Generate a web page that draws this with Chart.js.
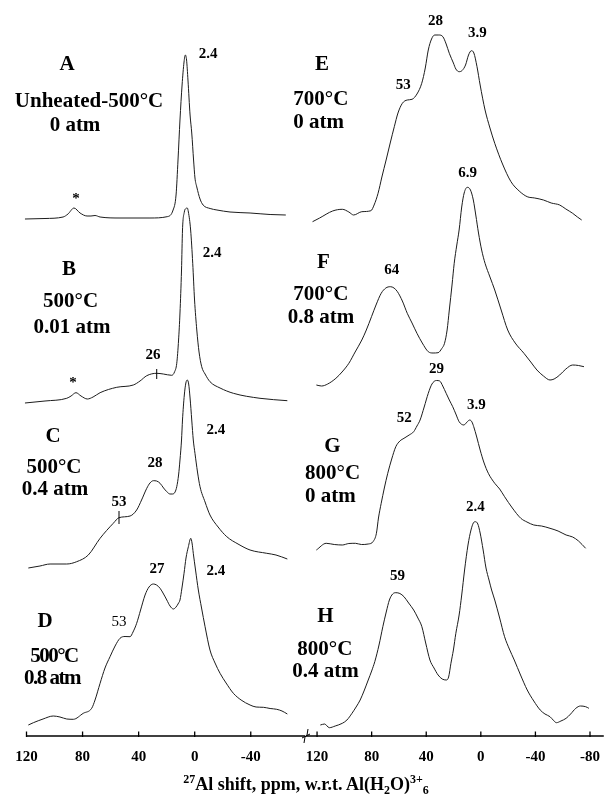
<!DOCTYPE html>
<html><head><meta charset="utf-8">
<script src="https://cdn.jsdelivr.net/npm/chart.js@4.4.0/dist/chart.umd.min.js"></script>
<style>
html,body{margin:0;padding:0;background:#fff;}
#wrap{position:relative;width:612px;height:809px;overflow:hidden;}
canvas{position:absolute;left:0;top:0;}
#xtitle{position:absolute;left:0;width:612px;top:774px;text-align:center;font:bold 18px "Liberation Serif","Times New Roman",serif;color:#000;white-space:nowrap;}
#xtitle sup,#xtitle sub{font-size:12px;vertical-align:baseline;position:relative;}
#xtitle sup{top:-0.6em;}
#xtitle sub{top:0.35em;}
</style></head><body>
<div id="wrap">
<canvas id="cL" width="612" height="809"></canvas>
<canvas id="cR" width="612" height="809"></canvas>
<div id="xtitle"><sup>27</sup>Al shift, ppm, w.r.t. Al(H<sub>2</sub>O)<sup>3+</sup><sub>6</sub></div>
</div>
<script>
// ---- tick labels ----
const leftTicks = [120, 80, 40, 0, -40];
const rightTicks = [120, 80, 40, 0, -40, -80];

// ---- spectra (ppm, relative intensity) ----
const ppmA = [121.1,106.8,93.9,90.4,86.1,81.8,76.8,74.0,71.1,67.5,53.3,31.9,19.7,15.4,13.3,11.9,10.5,9.0,7.6,6.7,5.8,4.8,3.3,2.1,0.8,-0.2,-1.5,-3.8,-6.0,-11.0,-15.9,-25.2,-39.5,-53.8,-65.0];
const intA = [0,0.5,2,5,11,6,3,3,3.5,2,1,1,2.3,9,24,59,99,134,157,164,159,139,104,86,59,41,32,20,14,10.5,9,7,6,4.5,4];

const ppmB = [121.1,106.8,91.3,88.2,84.7,81.1,76.6,72.5,67.5,55.6,43.8,39.0,34.2,27.1,22.4,16.4,14.4,12.8,11.5,10.5,9.4,8.7,7.4,6.3,5.3,4.5,2.9,1.4,0.1,-1.5,-3.1,-5.0,-7.4,-10.9,-18.1,-27.6,-46.6,-66.1];
const intB = [0,2,4.7,7,10.3,7,4,6,10.3,15.7,18,22,27.3,29.7,29,27.7,31,39.7,63,90,133,173,191,194.5,195,191,173,139.7,103,73,51,36.3,29,21.3,15,9.7,4.7,2.3];

const ppmC = [118.7,110.4,103.2,91.3,84.2,75.9,67.5,58.1,54.0,46.1,41.4,37.9,34.2,31.9,29.5,27.2,24.7,22.2,19.9,17.6,15.7,14.0,12.8,11.5,10.5,9.4,8.7,7.4,6.3,5.3,4.3,3.3,2.1,1.0,-0.2,-2.0,-3.8,-7.4,-10.9,-16.7,-22.9,-30.9,-39.5,-51.4,-58.0,-66.1];
const intC = [0,2,4,4,6.3,13,29.7,44.7,50.3,52,58,68,79.7,85,87.3,87,84.7,80,76.3,74,74,76,81.3,93,108,128,148,173,185,188,184,170,148,128,114.7,96,81.3,66,53,41,31.3,24,18,14.7,13,9];

const ppmD = [118.7,115.1,108.2,100.9,96.1,91.3,86.6,79.5,73.5,71.1,67.5,64.0,60.4,56.8,53.3,49.7,46.1,44.0,41.4,38.6,35.4,32.6,29.5,27.2,24.7,22.2,19.9,17.6,15.2,13.3,11.5,10.5,9.1,7.6,6.2,4.5,2.8,1.9,1.0,-0.6,-2.6,-4.9,-7.4,-10.9,-14.5,-18.1,-22.4,-27.6,-33.1,-39.5,-43.8,-49.0,-53.8,-58.5,-62.3,-66.1];
const intD = [0,2.3,6,9,8,6,5.7,11.7,16.7,25,41.7,57,68.3,79,86.7,88.5,88.3,93,101.7,115,130,138,141,140,136.7,131,125,119,116,118,122,125,137,151.7,167,178.3,186.7,182,171.7,155,135,117,98.3,75,62,51.7,42,31.7,25,20,18,17.7,16.5,15.7,14,11];

const ppmE = [123.3,118.1,108.6,101.5,96.7,93.2,87.2,80.5,78.2,75.3,72.5,69.4,66.4,63.4,60.7,57.5,53.9,50.4,46.8,43.3,40.7,38.5,36.1,33.8,30.8,27.8,25.4,23.1,20.1,18.3,15.9,13.7,11.2,9.0,6.9,5.1,2.8,0.5,-3.1,-6.7,-10.2,-15.9,-22.1,-28.1,-34.0,-39.5,-45.9,-51.6,-57.8,-62.3,-67.3,-70.8,-73.9];
const intE = [0.3,4,11,12.7,10,7,10.3,11.3,17,28.7,45,62,79,95.3,109,118.7,122,122.7,128,138.7,154,172,183,187,187,185.3,178,168.7,159,153,150.3,151.5,157,167,171.3,169,155.3,137,112,94,78.7,58,40.3,31,25.3,24,22,19,17,13,8.7,5,2];

const ppmF = [120.5,116.7,112.2,106.2,101.7,96.7,92.1,87.2,83.9,80.1,76.8,73.0,69.6,66.3,63.6,61.1,57.5,53.9,50.4,46.8,42.9,38.5,35.0,31.3,28.6,26.6,24.7,23.1,21.1,19.5,17.6,15.9,14.0,12.2,9.9,7.6,5.5,3.7,1.7,-0.6,-3.1,-6.7,-10.2,-14.9,-19.7,-25.2,-31.6,-36.6,-41.1,-45.9,-50.7,-53.7,-57.8,-62.3,-67.3,-71.6,-75.6];
const intF = [0,-1,1,6.7,13,21.7,33,45,55,68.3,80,91.7,97,98.3,97,93.3,84,71.7,62,51.7,42,33.3,32,32.3,36.5,41.7,55,75,100,121.7,140,155,178,192,197.7,195,185,170,152,135,121.7,108,95,75,55,42,31.7,23,15,9,5,6,10,16,20,19.5,18.3];

const ppmG = [120.5,113.3,107.4,101.5,96.7,91.9,87.5,82.5,78.9,76.5,75.0,73.0,70.7,68.2,65.3,62.3,59.3,56.3,52.5,49.2,46.8,44.5,41.5,38.5,35.8,32.5,30.1,27.9,25.4,23.1,20.6,18.3,15.9,12.4,10.1,8.1,6.5,5.2,3.0,0.5,-2.4,-5.5,-10.2,-13.8,-17.4,-23.1,-29.3,-33.8,-38.8,-44.5,-50.7,-56.6,-62.5,-67.3,-71.6,-76.8];
const intG = [0,6.7,5.5,5,6.5,6.7,5.5,6,8.5,16.7,32,46.7,62,76.7,91,103.3,109,111.7,115,118.3,124,130,143,156.7,166,169.5,169,164,156.7,150,143.3,136,128.3,125,128,130,128,123.3,113,100,87,76.7,66.7,61,53.3,42,31.7,28,25,24,21.7,19,15,13,9,1.7];

const ppmH = [117.6,114.5,111.0,106.7,101.5,98.1,94.4,91.4,88.4,85.3,82.5,80.0,77.7,74.6,71.8,69.3,67.0,64.6,62.3,59.3,56.3,52.9,49.2,46.1,43.2,40.4,37.3,34.3,31.3,28.3,25.4,23.6,21.9,20.1,18.3,15.9,14.0,11.9,9.4,7.2,5.5,4.0,2.2,0.5,-1.7,-3.8,-6.0,-7.9,-10.2,-13.8,-17.4,-20.9,-24.5,-29.1,-34.0,-38.8,-43.5,-47.0,-50.7,-53.0,-55.4,-58.7,-62.5,-65.8,-69.6,-73.0,-76.8,-79.2];
const intH = [0,1,-2.7,-1,1.7,5,11.7,18,25,35,45,54,63.3,80,98.3,113,125,131,132.3,131.5,128.3,122,115,107,98.3,82,65,57,50,46,45,48,61.7,75,91.7,110,130,155,180,195,202,203.3,201,192,175,157,145,135,125,107,88.3,76,65,50,35,24,15,11,8.3,5,2.3,4,6.7,11,16.7,19,18.3,16.7];

// vertical stacking of each trace above the axis
const stackLeft = [517, 333, 168, 11];
const stackRight = [514, 351, 186, 11];

// ---- texts ----
const textsLeft = [
  {t:'A', x:91.1, y:671, s:'big'},
  {t:'Unheated-500°C', x:75.4, y:634, s:'big'},
  {t:'0 atm', x:85.4, y:610, s:'big'},
  {t:'*', x:84.7, y:537, s:'peak'},
  {t:'2.4', x:-9.5, y:682, s:'peak'},
  {t:'B', x:89.6, y:466, s:'big'},
  {t:'500°C', x:88.6, y:434, s:'big'},
  {t:'0.01 atm', x:87.5, y:408, s:'big'},
  {t:'*', x:86.8, y:353, s:'peak'},
  {t:'26', x:29.7, y:381, s:'peak'},
  {t:'2.4', x:-12.4, y:483, s:'peak'},
  {t:'C', x:101.1, y:299, s:'big'},
  {t:'500°C', x:100.4, y:268, s:'big'},
  {t:'0.4 atm', x:99.7, y:246, s:'big'},
  {t:'28', x:28.3, y:273, s:'peak'},
  {t:'53', x:54.0, y:234, s:'peak'},
  {t:'2.4', x:-15.2, y:306, s:'peak'},
  {t:'D', x:106.8, y:114, s:'big'},
  {t:'500°C', x:100.4, y:79, s:'cond'},
  {t:'0.8 atm', x:101.8, y:57, s:'cond'},
  {t:'53', x:54.0, y:114, s:'plain'},
  {t:'27', x:26.9, y:167, s:'peak'},
  {t:'2.4', x:-15.2, y:165, s:'peak'}
];
const textsRight = [
  {t:'E', x:116.3, y:671, s:'big'},
  {t:'700°C', x:137.4, y:636, s:'big', a:'left'},
  {t:'0 atm', x:137.4, y:613, s:'big', a:'left'},
  {t:'53', x:56.8, y:651, s:'peak'},
  {t:'28', x:33.3, y:715, s:'peak'},
  {t:'3.9', x:2.6, y:703, s:'peak'},
  {t:'F', x:115.3, y:473, s:'big'},
  {t:'700°C', x:137.4, y:441, s:'big', a:'left'},
  {t:'0.8 atm', x:141.4, y:418, s:'big', a:'left'},
  {t:'64', x:65.3, y:466, s:'peak'},
  {t:'6.9', x:9.7, y:563, s:'peak'},
  {t:'G', x:108.8, y:289, s:'big'},
  {t:'800°C', x:128.8, y:262, s:'big', a:'left'},
  {t:'0 atm', x:128.8, y:239, s:'big', a:'left'},
  {t:'52', x:56.1, y:318, s:'peak'},
  {t:'29', x:32.5, y:367, s:'peak'},
  {t:'3.9', x:3.3, y:331, s:'peak'},
  {t:'H', x:113.8, y:119, s:'big'},
  {t:'800°C', x:134.5, y:86, s:'big', a:'left'},
  {t:'0.4 atm', x:138.1, y:64, s:'big', a:'left'},
  {t:'59', x:61.1, y:160, s:'peak'},
  {t:'2.4', x:4.0, y:229, s:'peak'}
];
// small vertical marks on curves (ppm, from, to)
const marksLeft = [{x:27.1, y0:357, y1:367}, {x:54.0, y0:212, y1:225}];

const serif = '"Liberation Serif","Times New Roman",Times,serif';
const fonts = {
  big: 'bold 21px ' + serif,
  cond: 'bold 21px ' + serif,
  peak: 'bold 15px ' + serif,
  plain: '15px ' + serif
};

const annot = {
  id: 'annot',
  afterDatasetsDraw(chart, args, opts) {
    const ctx = chart.ctx, xs = chart.scales.x, ys = chart.scales.y, ca = chart.chartArea;
    ctx.save();
    ctx.strokeStyle = '#000';
    ctx.fillStyle = '#000';
    // axis line
    ctx.lineWidth = 1.5;
    ctx.beginPath();
    ctx.moveTo(ca.left, ca.bottom);
    ctx.lineTo(ca.right, ca.bottom);
    ctx.stroke();
    // ticks (pointing up)
    ctx.lineWidth = 1.3;
    opts.ticks.forEach(t => {
      const px = xs.getPixelForValue(t);
      ctx.beginPath();
      ctx.moveTo(px, ca.bottom + 1);
      ctx.lineTo(px, ca.bottom - 4.5);
      ctx.stroke();
    });
    // break symbol
    if (opts.brk) {
      const bx = ca.right + 1, by = ca.bottom;
      ctx.lineWidth = 1;
      ctx.beginPath();
      ctx.moveTo(bx - 2, by + 7);
      ctx.lineTo(bx - 1, by + 1);
      ctx.lineTo(bx + 1, by - 1);
      ctx.lineTo(bx + 2, by - 7);
      ctx.stroke();
      ctx.beginPath();
      ctx.moveTo(bx - 4, by + 2);
      ctx.lineTo(bx + 4, by - 2);
      ctx.stroke();
    }
    // marks on curves
    ctx.lineWidth = 1;
    (opts.marks || []).forEach(m => {
      const px = xs.getPixelForValue(m.x);
      ctx.beginPath();
      ctx.moveTo(px, ys.getPixelForValue(m.y0));
      ctx.lineTo(px, ys.getPixelForValue(m.y1));
      ctx.stroke();
    });
    // texts
    ctx.textBaseline = 'middle';
    opts.texts.forEach(L => {
      ctx.font = fonts[L.s];
      ctx.textAlign = L.a || 'center';
      if ('letterSpacing' in ctx) ctx.letterSpacing = (L.s === 'cond') ? '-1.5px' : '0px';
      ctx.fillText(L.t, xs.getPixelForValue(L.x), ys.getPixelForValue(L.y));
    });
    ctx.restore();
  }
};

function makeChart(id, ppms, ints, stack, ticks, xmin, xmax, padL, padR, texts, marks, brk) {
  const datasets = ppms.map((pp, i) => ({
    data: pp.map((p, j) => ({x: p, y: ints[i][j] + stack[i]})),
    borderColor: '#1c1c1c', borderWidth: 1, pointRadius: 0, fill: false,
    cubicInterpolationMode: 'monotone', clip: false
  }));
  return new Chart(document.getElementById(id), {
    type: 'line',
    data: {datasets},
    options: {
      responsive: false, animation: false, events: [],
      layout: {padding: {left: padL, right: padR, top: 0, bottom: 0}},
      plugins: {legend: {display: false}, tooltip: {enabled: false},
        annot: {ticks, texts, marks, brk}},
      scales: {
        x: {
          type: 'linear', reverse: true, min: xmin, max: xmax,
          afterBuildTicks(sc) { sc.ticks = ticks.map(v => ({value: v})); },
          afterFit(sc) { sc.height = 73; },
          grid: {display: false, drawTicks: false},
          border: {display: false},
          ticks: {autoSkip: false, maxRotation: 0, minRotation: 0, padding: 12, color: '#000',
            font: {family: serif, weight: 'bold', size: 15}, callback: v => String(v)}
        },
        y: {display: false, min: 0, max: 736}
      }
    },
    plugins: [annot]
  });
}

makeChart('cL', [ppmA, ppmB, ppmC, ppmD], [intA, intB, intC, intD], stackLeft,
  leftTicks, -78.7, 120, 26.5, 307, textsLeft, marksLeft, true);
makeChart('cR', [ppmE, ppmF, ppmG, ppmH], [intE, intF, intG, intH], stackRight,
  rightTicks, -90.1, 128.1, 306, 0, textsRight, [], false);
</script>
</body></html>
